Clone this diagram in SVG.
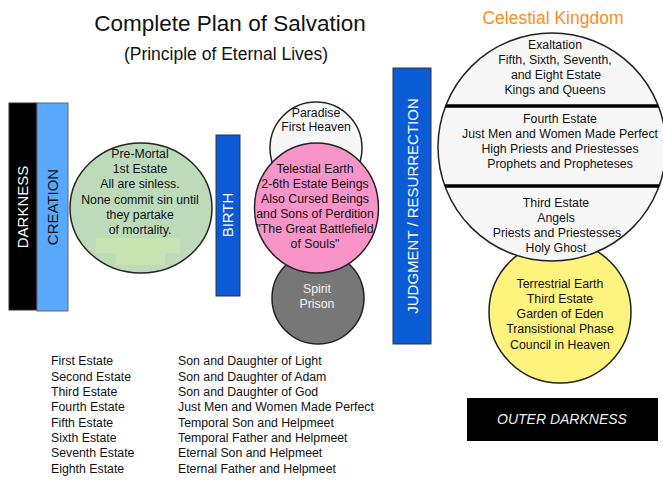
<svg xmlns="http://www.w3.org/2000/svg" width="663" height="482" viewBox="0 0 663 482">
<style>
text{font-family:"Liberation Sans",Arial,sans-serif;}
.t{font-size:12.3px;fill:#111;text-anchor:middle;}
.l{font-size:12.3px;fill:#111;}
.v{font-size:15px;text-anchor:middle;}
.c{stroke:#222;stroke-width:1.5;}
.bar{stroke:#333;stroke-width:1;}
</style>
<rect width="663" height="482" fill="#ffffff"/>
<g id="title">
<text x="230" y="31" font-size="22.5" text-anchor="middle" fill="#111">Complete Plan of Salvation</text>
<text x="226" y="60" font-size="17.5" text-anchor="middle" fill="#111">(Principle of Eternal Lives)</text>
</g>
<g id="darkness">
<rect class="bar" x="9" y="103" width="28" height="207" fill="#000"/>
<text class="v" transform="translate(28,207) rotate(-90)" fill="#fff">DARKNESS</text>
</g>
<g id="creation">
<rect x="37" y="103" width="31" height="208" fill="#58a9ff" stroke="#666" stroke-width="1"/>
<text class="v" transform="translate(58,207) rotate(-90)" fill="#111">CREATION</text>
</g>
<g id="premortal">
<ellipse class="c" cx="141" cy="208" rx="71" ry="65" fill="#bddbbb"/>
<rect x="96" y="238" width="84" height="15" fill="#c7e3b2"/>
<rect x="116" y="253" width="49" height="12" fill="#c7e3b2"/>
<text class="t" x="140" y="158">Pre-Mortal</text>
<text class="t" x="140" y="173">1st Estate</text>
<text class="t" x="140" y="188">All are sinless.</text>
<text class="t" x="140" y="204">None commit sin until</text>
<text class="t" x="140" y="219">they partake</text>
<text class="t" x="140" y="234">of mortality.</text>
</g>
<g id="birth">
<rect class="bar" x="216" y="135" width="24" height="161" fill="#0b5ad6"/>
<text class="v" font-size="14" transform="translate(233,215) rotate(-90)" fill="#fff">BIRTH</text>
</g>
<g id="paradise">
<ellipse class="c" cx="316" cy="148" rx="46" ry="46" fill="#f7f7f7"/>
<text class="t" x="316" y="117">Paradise</text>
<text class="t" x="316" y="131">First Heaven</text>
</g>
<g id="spirit-prison">
<ellipse class="c" cx="318" cy="298" rx="46" ry="46" fill="#777777"/>
<text class="t" x="317" y="293" fill="#f2f2f2" style="fill:#f2f2f2">Spirit</text>
<text class="t" x="317" y="308" style="fill:#f2f2f2">Prison</text>
</g>
<g id="telestial">
<ellipse class="c" cx="316.5" cy="208" rx="62" ry="65" fill="#f994c9"/>
<text class="t" x="315" y="173">Telestial Earth</text>
<text class="t" x="315" y="188">2-6th Estate Beings</text>
<text class="t" x="315" y="203">Also Cursed Beings</text>
<text class="t" x="315" y="218">and Sons of Perdition</text>
<text class="t" x="315" y="233">"The Great Battlefield</text>
<text class="t" x="315" y="248">of Souls"</text>
</g>
<g id="judgment">
<rect class="bar" x="393" y="68" width="38" height="276" fill="#0b5ad6"/>
<text class="v" transform="translate(418,206) rotate(-90)" fill="#fff">JUDGMENT / RESURRECTION</text>
</g>
<g id="terrestrial">
<circle class="c" cx="560" cy="312" r="71" fill="#fef37d"/>
<text class="t" x="560" y="288">Terrestrial Earth</text>
<text class="t" x="560" y="303">Third Estate</text>
<text class="t" x="560" y="318">Garden of Eden</text>
<text class="t" x="560" y="333">Transistional Phase</text>
<text class="t" x="560" y="349">Council in Heaven</text>
</g>
<g id="celestial">
<text x="553" y="24" font-size="17.5" text-anchor="middle" fill="#ff8c1a">Celestial Kingdom</text>
<clipPath id="cc"><circle cx="552" cy="147" r="114"/></clipPath>
<circle class="c" cx="552" cy="147" r="114" fill="#f7f7f7"/>
<g clip-path="url(#cc)" stroke="#000" stroke-width="3.5">
<line x1="430" y1="106" x2="670" y2="106"/>
<line x1="430" y1="186" x2="670" y2="186"/>
</g>
<text class="t" x="555" y="49">Exaltation</text>
<text class="t" x="555" y="64">Fifth, Sixth, Seventh,</text>
<text class="t" x="556" y="79">and Eight Estate</text>
<text class="t" x="555" y="94">Kings and Queens</text>
<text class="t" x="560" y="123">Fourth Estate</text>
<text class="t" x="560" y="138">Just Men and Women Made Perfect</text>
<text class="t" x="560" y="153">High Priests and Priestesses</text>
<text class="t" x="560" y="168">Prophets and Propheteses</text>
<text class="t" x="556" y="207">Third Estate</text>
<text class="t" x="556" y="222">Angels</text>
<text class="t" x="557" y="237">Priests and Priestesses</text>
<text class="t" x="556" y="252">Holy Ghost</text>
</g>
<g id="outer-darkness">
<rect x="467" y="398" width="191" height="43" fill="#000"/>
<text x="562" y="424" font-size="14" font-style="italic" text-anchor="middle" fill="#eeeeee">OUTER DARKNESS</text>
</g>
<g id="estates">
<text class="l" x="51" y="365">First Estate</text>
<text class="l" x="51" y="380.5">Second Estate</text>
<text class="l" x="51" y="396">Third Estate</text>
<text class="l" x="51" y="411">Fourth Estate</text>
<text class="l" x="51" y="426.5">Fifth Estate</text>
<text class="l" x="51" y="442">Sixth Estate</text>
<text class="l" x="51" y="457">Seventh Estate</text>
<text class="l" x="51" y="472.5">Eighth Estate</text>
<text class="l" x="178" y="365">Son and Daughter of Light</text>
<text class="l" x="178" y="380.5">Son and Daughter of Adam</text>
<text class="l" x="178" y="396">Son and Daughter of God</text>
<text class="l" x="178" y="411">Just Men and Women Made Perfect</text>
<text class="l" x="178" y="426.5">Temporal Son and Helpmeet</text>
<text class="l" x="178" y="442">Temporal Father and Helpmeet</text>
<text class="l" x="178" y="457">Eternal Son and Helpmeet</text>
<text class="l" x="178" y="472.5">Eternal Father and Helpmeet</text>
</g>
<g id="connectors"></g>
</svg>
